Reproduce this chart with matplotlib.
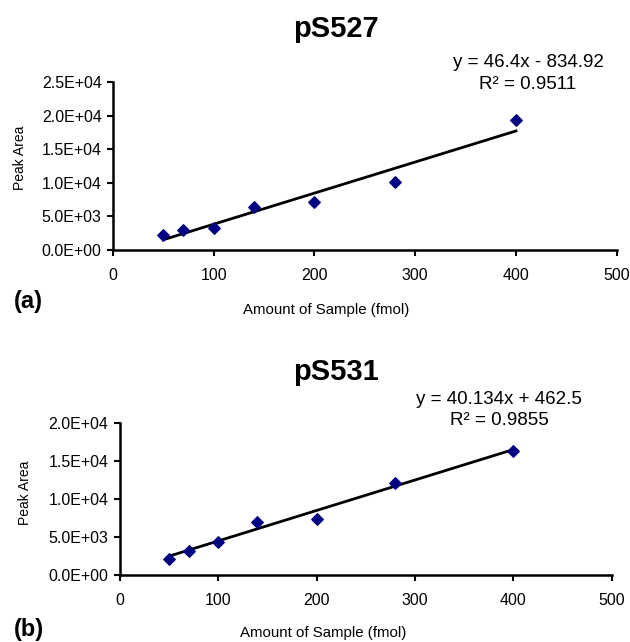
import numpy as np
import matplotlib.pyplot as plt
from matplotlib.ticker import FuncFormatter

plt.rcParams['font.family'] = ['Liberation Sans', 'DejaVu Sans']

# sample amounts (fmol)
amount = [50, 70, 100, 140, 200, 280, 400]

# peak areas
area_527 = [2200, 3000, 3300, 6400, 7100, 10100, 19400]
area_531 = [2100, 3200, 4400, 7000, 7400, 12100, 16300]

# trendline coefficients as printed on the chart
fit_527 = (46.4, -834.92, 0.9511)
fit_531 = (40.134, 462.5, 0.9855)

titles = ['pS527', 'pS531']
panel_labels = ['(a)', '(b)']
ymax = [25000, 20000]


def sci(v, pos):
    return f'{v:.1E}'


def draw_panel(fig, rect, x, y, fit, ytop, title, panel, txt):
    ax = fig.add_axes(rect)
    slope, icpt, r2 = fit
    xs = np.array([min(x), max(x)])
    ax.plot(xs, slope * xs + icpt, color='black', lw=2, zorder=2)
    ax.scatter(x, y, marker='D', s=34, color='#000080', zorder=3)

    ax.set_xlim(0, 500)
    ax.set_ylim(0, ytop)
    ax.set_xticks(np.arange(0, 501, 100))
    ax.set_yticks(np.arange(0, ytop + 1, 5000))
    ax.yaxis.set_major_formatter(FuncFormatter(sci))
    ax.tick_params(direction='out', length=4, width=1.5, labelsize=11.5, pad=4)
    ax.tick_params(axis='x', pad=9)
    for side in ['top', 'right']:
        ax.spines[side].set_visible(False)
    for side in ['left', 'bottom']:
        ax.spines[side].set_linewidth(1.8)

    # titles, equation and labels placed in figure coords
    fig.text(txt['title'][0], txt['title'][1], title, ha='center', va='center',
             fontsize=21, fontweight='bold')
    sign = '-' if icpt < 0 else '+'
    fig.text(txt['eq'][0], txt['eq'][1], f'y = {slope}x {sign} {abs(icpt)}',
             ha='center', va='center', fontsize=13.5)
    fig.text(txt['eq'][0], txt['eq'][1] - 0.034, f'R² = {r2}',
             ha='center', va='center', fontsize=13.5)
    fig.text(txt['xl'][0], txt['xl'][1], 'Amount of Sample (fmol)', ha='center',
             va='center', fontsize=10.8)
    fig.text(txt['yl'][0], txt['yl'][1], 'Peak Area', ha='center', va='center',
             rotation=90, fontsize=10)
    fig.text(txt['pl'][0], txt['pl'][1], panel, ha='left', va='center',
             fontsize=17, fontweight='bold')
    return ax


fig = plt.figure(figsize=(6.3, 6.42), dpi=100)

draw_panel(fig, [0.179, 0.611, 0.800, 0.261], amount, area_527, fit_527, ymax[0],
           titles[0], panel_labels[0],
           {'title': (0.533, 0.955), 'eq': (0.838, 0.902), 'xl': (0.517, 0.517),
            'yl': (0.032, 0.754), 'pl': (0.022, 0.530)})

draw_panel(fig, [0.190, 0.1044, 0.781, 0.2366], amount, area_531, fit_531, ymax[1],
           titles[1], panel_labels[1],
           {'title': (0.533, 0.4206), 'eq': (0.792, 0.3785), 'xl': (0.513, 0.014),
            'yl': (0.040, 0.232), 'pl': (0.022, 0.019)})

fig.savefig('out.png', dpi=100)
